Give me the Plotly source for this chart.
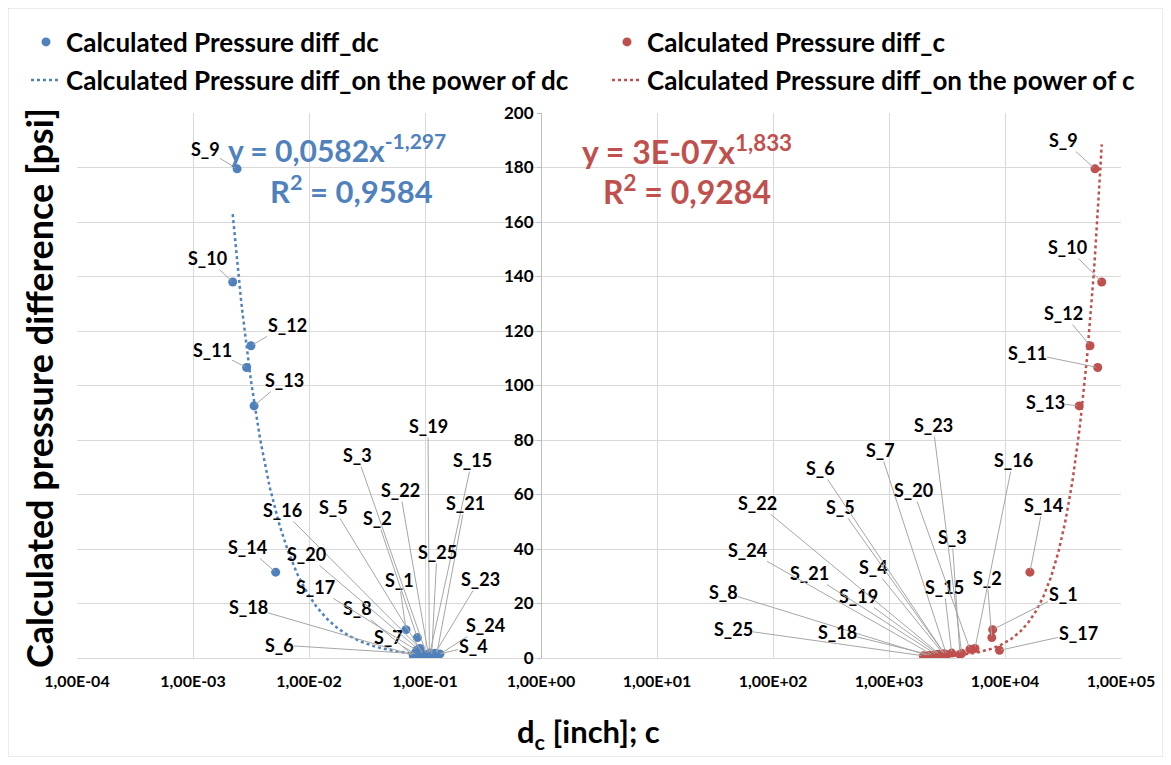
import numpy as np
import plotly.graph_objects as go

# ---------------- data ----------------
samples = [f"S_{i}" for i in range(1, 26)]
pressure_psi = [10.4, 7.5, 1.3, 1.5, 1.2, 1.6, 1.1, 0.9, 179.5, 138.0, 106.6, 114.6,
                92.5, 31.5, 1.8, 3.5, 2.8, 1.0, 1.4, 3.2, 1.2, 1.3, 1.7, 1.0, 0.8]
dc_inch = [0.0686, 0.0859, 0.1035, 0.1345, 0.0968, 0.0820, 0.0850, 0.0792, 0.0024,
           0.0022, 0.0029, 0.00316, 0.00336, 0.00516, 0.1104, 0.0906, 0.0848, 0.0800,
           0.1090, 0.0876, 0.1260, 0.1070, 0.1220, 0.1300, 0.1140]
c_values = [7830, 7700, 4090, 2940, 3040, 3000, 3140, 2180, 59700, 68200, 63000, 54100,
            43600, 16400, 3470, 5510, 8960, 2330, 2660, 4990, 2570, 2750, 4230, 2410, 1980]

x_tick_vals = [1e-4, 1e-3, 1e-2, 1e-1, 1e0, 1e1, 1e2, 1e3, 1e4, 1e5]
x_tick_text = ["1,00E-04", "1,00E-03", "1,00E-02", "1,00E-01", "1,00E+00",
               "1,00E+01", "1,00E+02", "1,00E+03", "1,00E+04", "1,00E+05"]

# power-law trendline coefficients (y = a * x^b), as shown on the chart
trend_dc = {"a": 0.0582, "b": -1.297}
trend_c = {"a": 2.6e-07, "b": 1.833}          # displayed rounded as 3E-07
eq_dc = ["y = 0,0582x<sup>-1,297</sup>", "R<sup>2</sup> = 0,9584"]
eq_c = ["y = 3E-07x<sup>1,833</sup>", "R<sup>2</sup> = 0,9284"]

# ---------------- styling / layout ----------------
OFF = 8                                      # page body margin
W, H = 1171 - 2 * OFF, 765 - 2 * OFF
PL, PR, PT, PB = 77, 1121, 113, 658          # plot area in screen pixels
BLUE, RED = "#4F81BD", "#C0504D"
GRID = "#D9D9D9"
FONT = "Lato"

def px_to_data(px, py):
    return (-4 + (px - PL) / ((PR - PL) / 9.0), (PB - py) / ((PB - PT) / 200.0))

def px_to_paper(px, py):
    return ((px - PL) / (PR - PL), (PB - py) / (PB - PT))

# label centres (screen pixels) for the data labels
blue_label_px = {
    "S_9": (205, 149), "S_10": (207, 258), "S_12": (287, 325), "S_11": (212, 350),
    "S_13": (284, 380), "S_14": (247, 547), "S_16": (282, 510), "S_5": (333, 507),
    "S_2": (377, 518), "S_3": (357, 455), "S_22": (400, 490), "S_19": (428, 426),
    "S_15": (472, 460), "S_21": (465, 503), "S_25": (437, 552), "S_20": (306, 554),
    "S_1": (399, 580), "S_23": (480, 579), "S_17": (315, 587), "S_8": (357, 608),
    "S_18": (248, 607), "S_24": (485, 625), "S_7": (388, 637), "S_4": (473, 646),
    "S_6": (279, 645),
}
red_label_px = {
    "S_9": (1063, 140), "S_10": (1067, 247), "S_12": (1063, 313), "S_11": (1027, 353),
    "S_13": (1045, 402), "S_23": (933, 425), "S_7": (880, 450), "S_6": (820, 468),
    "S_16": (1013, 460), "S_20": (913, 490), "S_22": (757, 503), "S_5": (840, 507),
    "S_14": (1043, 505), "S_3": (952, 537), "S_24": (747, 550), "S_21": (809, 573),
    "S_4": (873, 567), "S_2": (987, 578), "S_15": (944, 587), "S_19": (858, 596),
    "S_1": (1063, 594), "S_8": (723, 592), "S_25": (733, 629), "S_18": (837, 632),
    "S_17": (1078, 633),
}

xt_dc = np.geomspace(min(dc_inch), max(dc_inch), 200)
xt_c = np.geomspace(min(c_values), max(c_values), 200)

fig = go.Figure()
fig.add_trace(go.Scatter(x=dc_inch, y=pressure_psi, mode="markers", name="Calculated Pressure diff_dc",
                         marker=dict(color=BLUE, size=9), legend="legend", showlegend=True))
fig.add_trace(go.Scatter(x=c_values, y=pressure_psi, mode="markers", name="Calculated Pressure diff_c",
                         marker=dict(color=RED, size=9), legend="legend2", showlegend=True))
fig.add_trace(go.Scatter(x=xt_dc, y=trend_dc["a"] * xt_dc ** trend_dc["b"], mode="lines",
                         name="Calculated Pressure diff_on the power of dc",
                         line=dict(color=BLUE, width=2.5, dash="dot"), legend="legend3",
                         showlegend=True))
fig.add_trace(go.Scatter(x=xt_c, y=trend_c["a"] * xt_c ** trend_c["b"], mode="lines",
                         name="Calculated Pressure diff_on the power of c",
                         line=dict(color=RED, width=2.5, dash="dot"), legend="legend4",
                         showlegend=True))

ann = []
lab_font = dict(family=FONT, size=18, color="#000000", weight="bold")
for xs, lab_px in ((dc_inch, blue_label_px), (c_values, red_label_px)):
    for name, xv, yv in zip(samples, xs, pressure_psi):
        lx, ly = px_to_data(*lab_px[name])
        ann.append(dict(x=np.log10(xv), y=yv, xref="x", yref="y", ax=lx, ay=ly,
                        axref="x", ayref="y", text=name, showarrow=True, arrowhead=0,
                        arrowwidth=1, arrowcolor="#A6A6A6", font=lab_font, standoff=2,
                        borderpad=0))

eq_font_b = dict(family=FONT, size=30, color=BLUE, weight="bold")
eq_font_r = dict(family=FONT, size=32, color=RED, weight="bold")
for (px, py), txt, f in (((337, 148), eq_dc[0], eq_font_b), ((351, 190), eq_dc[1], dict(eq_font_b, size=31)),
                         ((687, 150), eq_c[0], eq_font_r), ((687, 190), eq_c[1], eq_font_r)):
    xp, yp = px_to_paper(px, py)
    ann.append(dict(x=xp, y=yp, xref="paper", yref="paper", text=txt, showarrow=False,
                    font=f, xanchor="center", yanchor="middle"))

# axis titles
xp, yp = px_to_paper(588, 733)
ann.append(dict(x=xp, y=yp, xref="paper", yref="paper", text="d<sub>c</sub> [inch]; c",
                showarrow=False, xanchor="center", yanchor="middle",
                font=dict(family=FONT, size=31, color="#000", weight="bold")))
xp, yp = px_to_paper(39, 388)
ann.append(dict(x=xp, y=yp, xref="paper", yref="paper", text="Calculated pressure difference [psi]",
                showarrow=False, textangle=-90, xanchor="center", yanchor="middle",
                font=dict(family=FONT, size=36, color="#000", weight="bold")))

bx0, by0 = px_to_paper(OFF, OFF)
bx1, by1 = px_to_paper(1171 - OFF, 765 - OFF)
shapes = [dict(type="rect", xref="paper", yref="paper", x0=bx0, y0=by1, x1=bx1, y1=by0,
               line=dict(color=GRID, width=1), layer="below")]

leg_font = dict(family=FONT, size=26, color="#000", weight="bold")

def leg(px, py):
    xp, yp = px_to_paper(px, py)
    return dict(orientation="h", x=xp, y=yp, xanchor="left", yanchor="middle",
                font=leg_font, bgcolor="rgba(0,0,0,0)", borderwidth=0, visible=True)

fig.update_layout(
    width=W, height=H, showlegend=True,
    margin=dict(l=PL - OFF, r=W - (PR - OFF), t=PT - OFF, b=H - (PB - OFF), autoexpand=False),
    paper_bgcolor="white", plot_bgcolor="white",
    font=dict(family=FONT, color="#000"),
    annotations=ann, shapes=shapes,
    legend=leg(26, 42), legend2=leg(607, 42), legend3=leg(26, 80), legend4=leg(607, 80),
    xaxis=dict(type="log", range=[-4, 5], tickvals=x_tick_vals, ticktext=x_tick_text,
               showgrid=True, gridcolor=GRID, gridwidth=1, showline=True, linecolor=GRID,
               zeroline=False, ticks="", ticklabelstandoff=9,
               tickfont=dict(family=FONT, size=16, color="#000", weight="bold")),
    yaxis=dict(range=[0, 200], dtick=20, anchor="free", position=4 / 9,
               showgrid=True, gridcolor=GRID, gridwidth=1, showline=True, linecolor="#BFBFBF",
               zeroline=False, ticks="outside", ticklen=4, tickcolor="#BFBFBF",
               tickfont=dict(family=FONT, size=17, color="#000", weight="bold")),
)

fig.write_html("out.html")
